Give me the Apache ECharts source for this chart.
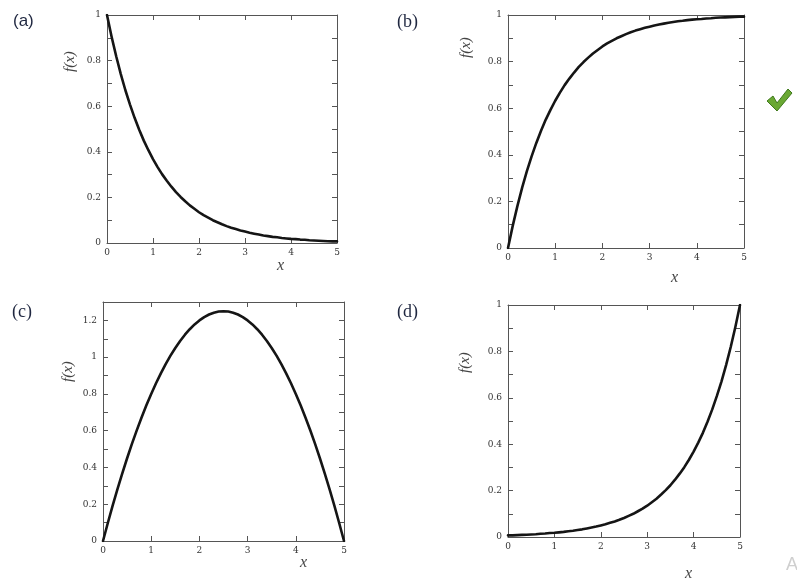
<!DOCTYPE html>
<html>
<head>
<meta charset="utf-8">
<script src="https://cdn.jsdelivr.net/npm/echarts@6/dist/echarts.min.js"></script>
<style>html,body{margin:0;padding:0;background:#fff}#c{width:797px;height:582px}</style>
</head>
<body>
<div id="c"></div>
<script>
// x sample positions shared by all panels
var xs = [0,0.1,0.2,0.3,0.4,0.5,0.6,0.7,0.8,0.9,1,1.1,1.2,1.3,1.4,1.5,1.6,1.7,1.8,1.9,2,2.1,2.2,2.3,2.4,2.5,2.6,2.7,2.8,2.9,3,3.1,3.2,3.3,3.4,3.5,3.6,3.7,3.8,3.9,4,4.1,4.2,4.3,4.4,4.5,4.6,4.7,4.8,4.9,5];
// (a) decreasing curve
var ya = [1,0.905,0.819,0.741,0.670,0.607,0.549,0.497,0.449,0.407,0.368,0.333,0.301,0.273,0.247,0.223,0.202,0.183,0.165,0.150,0.135,0.122,0.111,0.100,0.091,0.082,0.074,0.067,0.061,0.055,0.050,0.045,0.041,0.037,0.033,0.030,0.027,0.025,0.022,0.020,0.018,0.017,0.015,0.014,0.012,0.011,0.010,0.009,0.008,0.007,0.007];
// (b) increasing saturating curve
var yb = [0,0.095,0.181,0.259,0.330,0.393,0.451,0.503,0.551,0.593,0.632,0.667,0.699,0.727,0.753,0.777,0.798,0.817,0.835,0.850,0.865,0.878,0.889,0.900,0.909,0.918,0.926,0.933,0.939,0.945,0.950,0.955,0.959,0.963,0.967,0.970,0.973,0.975,0.978,0.980,0.982,0.983,0.985,0.986,0.988,0.989,0.990,0.991,0.992,0.993,0.993];
// (c) arch
var yc = [0,0.098,0.192,0.282,0.368,0.45,0.528,0.602,0.672,0.738,0.8,0.858,0.912,0.962,1.008,1.05,1.088,1.122,1.152,1.178,1.2,1.218,1.232,1.242,1.248,1.25,1.248,1.242,1.232,1.218,1.2,1.178,1.152,1.122,1.088,1.05,1.008,0.962,0.912,0.858,0.8,0.738,0.672,0.602,0.528,0.45,0.368,0.282,0.192,0.098,0];
// (d) rising curve
var yd = [0.007,0.007,0.008,0.009,0.010,0.011,0.012,0.014,0.015,0.017,0.018,0.020,0.022,0.025,0.027,0.030,0.033,0.037,0.041,0.045,0.050,0.055,0.061,0.067,0.074,0.082,0.091,0.100,0.111,0.122,0.135,0.150,0.165,0.183,0.202,0.223,0.247,0.273,0.301,0.333,0.368,0.407,0.449,0.497,0.549,0.607,0.670,0.741,0.819,0.905,1];
var xTicks = [0,1,2,3,4,5];
var yMaxes = [1,1,1.3,1];
var panelLabels = ['(a)','(b)','(c)','(d)'];
var seriesY = [ya,yb,yc,yd];

var grids = [
  {left:107, top:15, width:230, height:228},
  {left:508, top:15, width:236, height:233},
  {left:103, top:302, width:241, height:239},
  {left:508, top:305, width:232, height:232}
];

var axisLineStyle = {color:'#555', width:1};
var xAxes = [], yAxes = [], series = [];
grids.forEach(function(g,i){
  xAxes.push({gridIndex:i, type:'value', min:0, max:5, interval:1, position:'bottom',
    axisLine:{show:true, onZero:false, lineStyle:axisLineStyle},
    axisTick:{show:true, inside:true, length:5, lineStyle:axisLineStyle},
    axisLabel:{show:true, margin:5, color:'#333', fontFamily:'DejaVu Serif', fontSize:9,
      formatter:function(v){return xTicks.indexOf(v)>=0 ? String(v) : '';}},
    splitLine:{show:false}});
  xAxes.push({gridIndex:i, type:'value', min:0, max:5, interval:1, position:'top',
    axisLine:{show:true, onZero:false, lineStyle:axisLineStyle},
    axisTick:{show:true, inside:true, length:5, lineStyle:axisLineStyle},
    axisLabel:{show:false}, splitLine:{show:false}});
  yAxes.push({gridIndex:i, type:'value', min:0, max:yMaxes[i], interval:0.1, position:'left',
    axisLine:{show:true, onZero:false, lineStyle:axisLineStyle},
    axisTick:{show:true, inside:true, length:5, lineStyle:axisLineStyle},
    axisLabel:{show:true, margin:6, color:'#333', fontFamily:'DejaVu Serif', fontSize:9,
      formatter:function(v){var k=Math.round(v*10); if(k%2!==0) return ''; return String(Math.round(v*10)/10);}},
    splitLine:{show:false}});
  yAxes.push({gridIndex:i, type:'value', min:0, max:yMaxes[i], interval:0.1, position:'right',
    axisLine:{show:true, onZero:false, lineStyle:axisLineStyle},
    axisTick:{show:true, inside:true, length:5, lineStyle:axisLineStyle},
    axisLabel:{show:false}, splitLine:{show:false}});
  series.push({type:'line', xAxisIndex:2*i, yAxisIndex:2*i, smooth:false, showSymbol:false,
    lineStyle:{color:'#151515', width:2.6, join:'round', cap:'round'},
    data: xs.map(function(x,j){return [x, seriesY[i][j]];})});
});

var labelColor = '#1f2740';
var graphics = [
  {type:'text', left:13, top:13, style:{text:panelLabels[0], font:'17px "Liberation Sans"', fill:labelColor}},
  {type:'text', left:397, top:13, style:{text:panelLabels[1], font:'18px "Liberation Serif"', fill:labelColor}},
  {type:'text', left:12, top:303, style:{text:panelLabels[2], font:'18px "Liberation Serif"', fill:labelColor}},
  {type:'text', left:397, top:303, style:{text:panelLabels[3], font:'18px "Liberation Serif"', fill:labelColor}},
  // axis names
  {type:'text', x:277, y:258, style:{text:'x', font:'italic 16px "Liberation Serif"', fill:'#444'}},
  {type:'text', x:671, y:270, style:{text:'x', font:'italic 16px "Liberation Serif"', fill:'#444'}},
  {type:'text', x:300, y:555, style:{text:'x', font:'italic 16px "Liberation Serif"', fill:'#444'}},
  {type:'text', x:685, y:566, style:{text:'x', font:'italic 16px "Liberation Serif"', fill:'#444'}},
  {type:'text', x:63, y:72, rotation:Math.PI/2, style:{text:'f(x)', font:'italic 15px "Liberation Serif"', fill:'#444'}},
  {type:'text', x:459, y:58, rotation:Math.PI/2, style:{text:'f(x)', font:'italic 15px "Liberation Serif"', fill:'#444'}},
  {type:'text', x:61, y:382, rotation:Math.PI/2, style:{text:'f(x)', font:'italic 15px "Liberation Serif"', fill:'#444'}},
  {type:'text', x:458, y:373, rotation:Math.PI/2, style:{text:'f(x)', font:'italic 15px "Liberation Serif"', fill:'#444'}},
  // check mark
  {type:'polygon', shape:{points:[[767,101],[773,96],[777,103],[788,89],[792,93],[777,111]]},
    style:{fill:'#6aa833', stroke:'#3f7a1c', lineWidth:1, lineJoin:'round'}},
  // faint letter at bottom right
  {type:'text', x:786, y:556, style:{text:'A', font:'18px "Liberation Sans"', fill:'#cfcfcf'}}
];

var chart = echarts.init(document.getElementById('c'), null, {renderer:'canvas'});
chart.setOption({
  animation:false,
  backgroundColor:'#fff',
  grid: grids,
  xAxis: xAxes,
  yAxis: yAxes,
  series: series,
  graphic: graphics
});
</script>
</body>
</html>
